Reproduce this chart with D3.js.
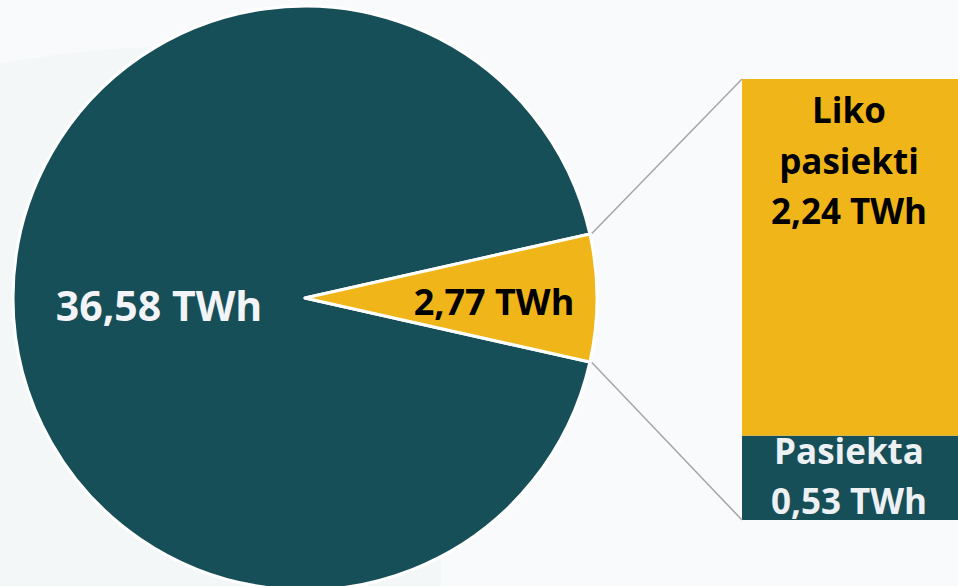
<!DOCTYPE html>
<html>
<head>
<meta charset="utf-8">
<script src="https://cdn.jsdelivr.net/npm/d3@7"></script>
<style>
  html, body { margin: 0; padding: 0; background: #f9fafc; }
  svg { display: block; }
  text { font-family: "Open Sans", "DejaVu Sans", sans-serif; font-weight: 700; }
</style>
</head>
<body>
<div id="chart"></div>
<script>
// Pie data (TWh)
const pieLabels = ["36,58 TWh", "2,77 TWh"];
const pieValues = [36.58, 2.77];

// Breakdown of the small slice, bottom to top
const barNames = [["Pasiekta", "0,53 TWh"], ["Liko", "pasiekti", "2,24 TWh"]];
const barValues = [0.53, 2.24];

const W = 958, H = 586;
const TEAL = "#174f58", GOLD = "#f0b619";

const svg = d3.select("#chart").append("svg")
    .attr("width", W)
    .attr("height", H);

// faint backdrop panel on the left
svg.append("path")
    .attr("d", "M0,64 C70,50 140,46 220,46 L441,46 L441,586 L0,586 Z")
    .attr("fill", "#f3f7f8");

// pie layout: put the small slice centred on the right (3 o'clock)
const total = d3.sum(pieValues);
const smallMid = 2 * Math.PI * (pieValues[0] + pieValues[1] / 2) / total;
const start = Math.PI / 2 - smallMid;
const pie = d3.pie().sort(null).startAngle(start).endAngle(start + 2 * Math.PI);
const arcs = pie(pieValues);

const cx = 305, cy = 298, R = 292;
const arc = d3.arc().innerRadius(0).outerRadius(R);

const g = svg.append("g").attr("transform", `translate(${cx},${cy})`);

g.selectAll("path.slice")
    .data(arcs)
    .join("path")
    .attr("class", "slice")
    .attr("d", arc)
    .attr("fill", (d, i) => i === 0 ? TEAL : GOLD)
    .attr("stroke", "#ffffff")
    .attr("stroke-width", 3)
    .attr("stroke-linejoin", "round");

// slice labels (baseline placed)
g.append("text")
    .attr("x", -146).attr("y", 23)
    .attr("text-anchor", "middle")
    .attr("font-size", 41)
    .attr("fill", "#f2f4f7")
    .text(pieLabels[0]);

g.append("text")
    .attr("x", 189).attr("y", 17)
    .attr("text-anchor", "middle")
    .attr("font-size", 36)
    .attr("fill", "#000000")
    .text(pieLabels[1]);

// stacked bar for the breakdown
const barX = 742, barW = 216;
const y = d3.scaleLinear().domain([0, d3.sum(barValues)]).range([520, 79]);
const stacked = [];
let acc = 0;
barValues.forEach((v, i) => { stacked.push({ i, y0: acc, y1: acc + v }); acc += v; });

svg.selectAll("rect.seg")
    .data(stacked)
    .join("rect")
    .attr("class", "seg")
    .attr("x", barX)
    .attr("width", barW)
    .attr("y", d => y(d.y1))
    .attr("height", d => y(d.y0) - y(d.y1))
    .attr("fill", d => d.i === 0 ? TEAL : GOLD);

// connector lines from the slice edge to the bar corners
const small = arcs[1];
const edge = a => [cx + (R + 2) * Math.sin(a), cy - (R + 2) * Math.cos(a)];
const p1 = edge(small.startAngle), p2 = edge(small.endAngle);
svg.append("line")
    .attr("x1", p1[0]).attr("y1", p1[1])
    .attr("x2", barX).attr("y2", y(acc))
    .attr("stroke", "#a6a6a6").attr("stroke-width", 1.5);
svg.append("line")
    .attr("x1", p2[0]).attr("y1", p2[1])
    .attr("x2", barX).attr("y2", y(0))
    .attr("stroke", "#a6a6a6").attr("stroke-width", 1.5);

// bar labels
const labelX = 849, lineH = 50.5;
barNames[1].forEach((t, k) => {
    svg.append("text")
        .attr("x", labelX).attr("y", y(acc) + 44 + k * lineH)
        .attr("text-anchor", "middle")
        .attr("font-size", 35)
        .attr("fill", "#000000")
        .text(t);
});
barNames[0].forEach((t, k) => {
    svg.append("text")
        .attr("x", labelX).attr("y", y(barValues[0]) + 28 + k * 50)
        .attr("text-anchor", "middle")
        .attr("font-size", 35)
        .attr("fill", "#eef1f4")
        .text(t);
});
</script>
</body>
</html>
